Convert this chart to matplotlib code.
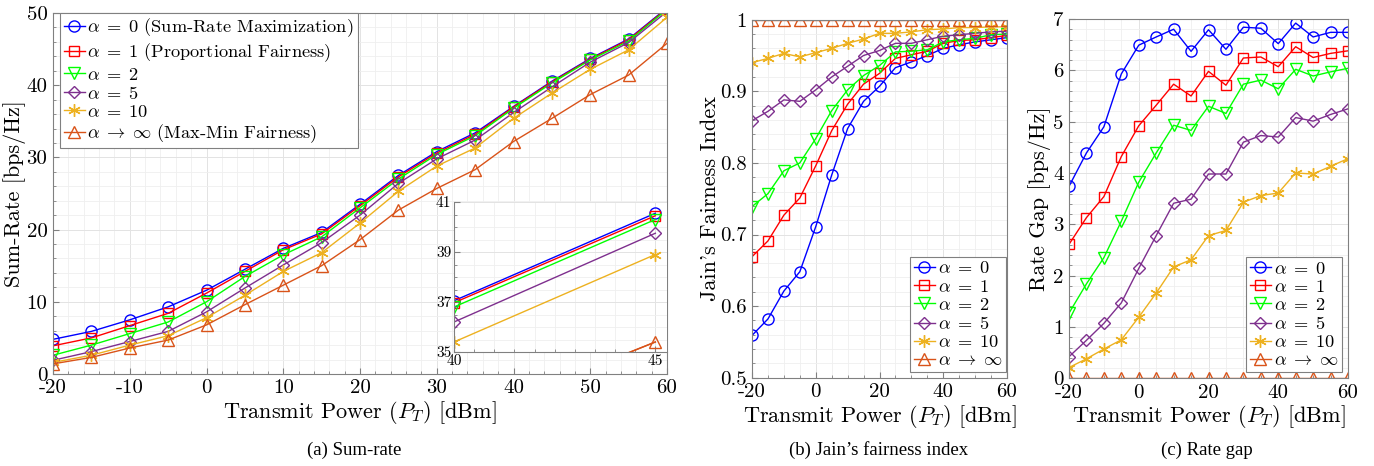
import matplotlib
matplotlib.use("Agg")
import matplotlib.pyplot as plt
from matplotlib.ticker import MultipleLocator
import numpy as np

plt.rcParams["font.family"] = ["cmr10", "DejaVu Serif"]
plt.rcParams["mathtext.fontset"] = "cm"
plt.rcParams["axes.unicode_minus"] = False
plt.rcParams["axes.formatter.use_mathtext"] = False

W, H = 1374, 466

power_dbm = [-20, -15, -10, -5, 0, 5, 10, 15, 20, 25, 30, 35, 40, 45, 50, 55, 60]

# (a) sum-rate [bps/Hz]
sum_rate = {
    "0": [4.8, 5.9, 7.5, 9.3, 11.6, 14.5, 17.4, 19.6, 23.5, 27.5, 30.8, 33.4, 37.05, 40.55, 43.7, 46.4, 50.7],
    "1": [3.9, 5.0, 6.7, 8.4, 11.2, 14.2, 17.2, 19.4, 23.3, 27.3, 30.6, 33.2, 36.97, 40.45, 43.6, 46.3, 50.6],
    "2": [2.6, 4.0, 5.6, 7.2, 10.0, 13.5, 16.5, 19.0, 23.0, 27.0, 30.4, 33.0, 36.8, 40.3, 43.5, 46.1, 50.5],
    "5": [1.9, 3.1, 4.5, 5.9, 8.6, 11.9, 15.1, 18.2, 22.0, 26.4, 29.8, 32.4, 36.2, 39.75, 43.2, 45.9, 50.2],
    "10": [1.6, 2.6, 4.0, 5.3, 7.8, 10.9, 14.2, 16.8, 20.9, 25.3, 28.8, 31.3, 35.4, 38.9, 42.2, 44.9, 49.4],
    "inf": [1.4, 2.3, 3.6, 4.7, 6.8, 9.6, 12.3, 15.0, 18.6, 22.7, 25.7, 28.3, 32.2, 35.4, 38.7, 41.4, 45.8],
}

# (b) Jain's fairness index
jain = {
    "0": [0.559, 0.582, 0.621, 0.648, 0.711, 0.783, 0.848, 0.886, 0.907, 0.933, 0.941, 0.950, 0.960, 0.965, 0.969, 0.972, 0.975],
    "1": [0.669, 0.691, 0.727, 0.751, 0.796, 0.845, 0.882, 0.910, 0.925, 0.946, 0.951, 0.956, 0.967, 0.971, 0.972, 0.975, 0.978],
    "2": [0.739, 0.757, 0.789, 0.800, 0.834, 0.873, 0.902, 0.922, 0.936, 0.955, 0.956, 0.958, 0.969, 0.972, 0.974, 0.979, 0.980],
    "5": [0.859, 0.872, 0.888, 0.886, 0.902, 0.920, 0.935, 0.950, 0.957, 0.967, 0.967, 0.972, 0.977, 0.979, 0.981, 0.983, 0.984],
    "10": [0.940, 0.946, 0.953, 0.948, 0.954, 0.960, 0.967, 0.973, 0.981, 0.981, 0.983, 0.986, 0.987, 0.989, 0.989, 0.990, 0.990],
    "inf": [1.0] * 17,
}

# (c) rate gap [bps/Hz]
rate_gap = {
    "0": [3.74, 4.39, 4.90, 5.93, 6.49, 6.65, 6.80, 6.37, 6.79, 6.41, 6.84, 6.82, 6.52, 6.92, 6.65, 6.74, 6.74],
    "1": [2.61, 3.13, 3.54, 4.32, 4.92, 5.32, 5.73, 5.50, 5.98, 5.71, 6.24, 6.26, 6.07, 6.46, 6.25, 6.33, 6.38],
    "2": [1.27, 1.84, 2.35, 3.06, 3.82, 4.39, 4.93, 4.83, 5.30, 5.16, 5.73, 5.81, 5.64, 6.02, 5.89, 5.97, 6.04],
    "5": [0.42, 0.74, 1.07, 1.47, 2.14, 2.78, 3.41, 3.49, 3.98, 3.98, 4.60, 4.73, 4.70, 5.08, 5.01, 5.14, 5.25],
    "10": [0.21, 0.38, 0.57, 0.75, 1.19, 1.66, 2.17, 2.31, 2.78, 2.88, 3.43, 3.56, 3.61, 4.00, 3.98, 4.13, 4.28],
    "inf": [0.0] * 17,
}

inset_power = [40, 45]

keys = ["0", "1", "2", "5", "10", "inf"]
colors = {"0": "#0000ff", "1": "#ff0000", "2": "#00ff00", "5": "#7e2f8e",
          "10": "#edb120", "inf": "#d95319"}
markers = {"0": "o", "1": "s", "2": "v", "5": "D", "10": (6, 2, 0), "inf": "^"}
msizes = {"0": 8, "1": 7, "2": 8, "5": 6.5, "10": 9, "inf": 8}
short_labels = {"0": r"$\alpha\;=\;0$", "1": r"$\alpha\;=\;1$", "2": r"$\alpha\;=\;2$",
                "5": r"$\alpha\;=\;5$", "10": r"$\alpha\;=\;10$", "inf": r"$\alpha\;\rightarrow\;\infty$"}
long_labels = dict(short_labels)
long_labels["0"] = r"$\alpha\;=\;0$ (Sum-Rate Maximization)"
long_labels["1"] = r"$\alpha\;=\;1$ (Proportional Fairness)"
long_labels["inf"] = r"$\alpha\;\rightarrow\;\infty$ (Max-Min Fairness)"

TICK_FS = 15
LABEL_FS = 16
LEG_FS = 13.2


def px_axes(fig, left, right, top, bottom):
    return fig.add_axes([left / W, (H - bottom) / H, (right - left) / W, (bottom - top) / H])


def style(ax, fs=TICK_FS):
    for s in ax.spines.values():
        s.set_color("#808080")
        s.set_linewidth(0.8)
    ax.tick_params(which="both", direction="in", color="#808080", labelsize=fs, pad=4)
    ax.tick_params(which="major", length=4)
    ax.tick_params(which="minor", length=2)
    ax.grid(which="major", color="#e3e3e3", linewidth=0.7)
    ax.grid(which="minor", color="#efefef", linewidth=0.6)
    ax.set_axisbelow(True)


def draw(ax, x, data, labels):
    for k in keys:
        ax.plot(x, data[k], color=colors[k], marker=markers[k], markersize=msizes[k],
                markerfacecolor="none", markeredgecolor=colors[k], markeredgewidth=1.0,
                linewidth=1.0, label=labels[k])


def add_legend(ax, loc, anchor):
    leg = ax.legend(loc=loc, bbox_to_anchor=anchor, fontsize=LEG_FS, handlelength=1.15,
                    handletextpad=0.15, borderpad=0.2, labelspacing=0.12, borderaxespad=0.0,
                    fancybox=False, framealpha=1, edgecolor="#808080")
    leg.get_frame().set_linewidth(0.8)


fig = plt.figure(figsize=(W / 100, H / 100), dpi=100)

# ---- (a) sum-rate ----
ax_a = px_axes(fig, 53, 667, 13, 374)
style(ax_a)
draw(ax_a, power_dbm, sum_rate, long_labels)
ax_a.set_xlim(-20, 60)
ax_a.set_ylim(0, 50)
ax_a.xaxis.set_major_locator(MultipleLocator(10))
ax_a.xaxis.set_minor_locator(MultipleLocator(2))
ax_a.yaxis.set_major_locator(MultipleLocator(10))
ax_a.yaxis.set_minor_locator(MultipleLocator(2))
ax_a.set_xlabel(r"Transmit Power ($P_T$) [dBm]", fontsize=LABEL_FS, labelpad=1)
ax_a.set_ylabel("Sum-Rate [bps/Hz]", fontsize=LABEL_FS)
ax_a.yaxis.set_label_coords(-0.044, 0.5)
add_legend(ax_a, "upper left", (0.0114, 1.0))

# inset zoom at 40-45 dBm
ax_in = px_axes(fig, 454, 667, 202, 352)
ax_in.set_facecolor("white")
style(ax_in, fs=11)
for k in keys:
    ax_in.plot(inset_power, [sum_rate[k][12], sum_rate[k][13]], color=colors[k],
               marker=markers[k], markersize=msizes[k], markerfacecolor="none",
               markeredgecolor=colors[k], markeredgewidth=1.0, linewidth=1.0)
ax_in.plot([44.0, 45], [34.75, 35.4], color=colors["inf"], linewidth=1.0)
ax_in.set_xlim(40, 45.29)
ax_in.set_ylim(35, 41)
ax_in.set_xticks([40, 45])
ax_in.set_yticks([35, 37, 39, 41])
ax_in.xaxis.set_minor_locator(MultipleLocator(0.5))
ax_in.yaxis.set_minor_locator(MultipleLocator(0.5))
ax_in.spines["top"].set_visible(False)
ax_in.spines["right"].set_visible(False)
ax_in.tick_params(pad=2)

# ---- (b) Jain's fairness index ----
ax_b = px_axes(fig, 752, 1007, 19.7, 377.7)
style(ax_b)
draw(ax_b, power_dbm, jain, short_labels)
ax_b.set_xlim(-20, 60)
ax_b.set_ylim(0.5, 1.0)
ax_b.xaxis.set_major_locator(MultipleLocator(20))
ax_b.xaxis.set_minor_locator(MultipleLocator(5))
ax_b.yaxis.set_minor_locator(MultipleLocator(0.02))
ax_b.set_yticks([0.5, 0.6, 0.7, 0.8, 0.9, 1.0])
ax_b.set_yticklabels(["0.5", "0.6", "0.7", "0.8", "0.9", "1"])
ax_b.set_xlabel(r"Transmit Power ($P_T$) [dBm]", fontsize=LABEL_FS, labelpad=1)
ax_b.set_ylabel("Jain's Fairness Index", fontsize=LABEL_FS)
ax_b.yaxis.set_label_coords(-0.125, 0.5)
add_legend(ax_b, "lower right", (0.996, 0.016))

# ---- (c) rate gap ----
ax_c = px_axes(fig, 1069, 1348, 19, 378.3)
style(ax_c)
draw(ax_c, power_dbm, rate_gap, short_labels)
ax_c.set_xlim(-20, 60)
ax_c.set_ylim(0, 7)
ax_c.xaxis.set_major_locator(MultipleLocator(20))
ax_c.xaxis.set_minor_locator(MultipleLocator(5))
ax_c.yaxis.set_major_locator(MultipleLocator(1))
ax_c.yaxis.set_minor_locator(MultipleLocator(0.2))
ax_c.set_xlabel(r"Transmit Power ($P_T$) [dBm]", fontsize=LABEL_FS, labelpad=1)
ax_c.set_ylabel("Rate Gap [bps/Hz]", fontsize=LABEL_FS)
ax_c.yaxis.set_label_coords(-0.065, 0.5)
add_legend(ax_c, "lower right", (0.978, 0.0175))

# captions (Times-like in the original)
cap_font = ["Liberation Serif", "DejaVu Serif"]
fig.text(354 / W, 1 - 450 / H, "(a) Sum-rate", ha="center", va="center", fontsize=13.5, family=cap_font)
fig.text(879 / W, 1 - 450 / H, "(b) Jain\u2019s fairness index", ha="center", va="center", fontsize=13.5, family=cap_font)
fig.text(1207 / W, 1 - 450 / H, "(c) Rate gap", ha="center", va="center", fontsize=13.5, family=cap_font)

fig.savefig("out.png", dpi=100)
